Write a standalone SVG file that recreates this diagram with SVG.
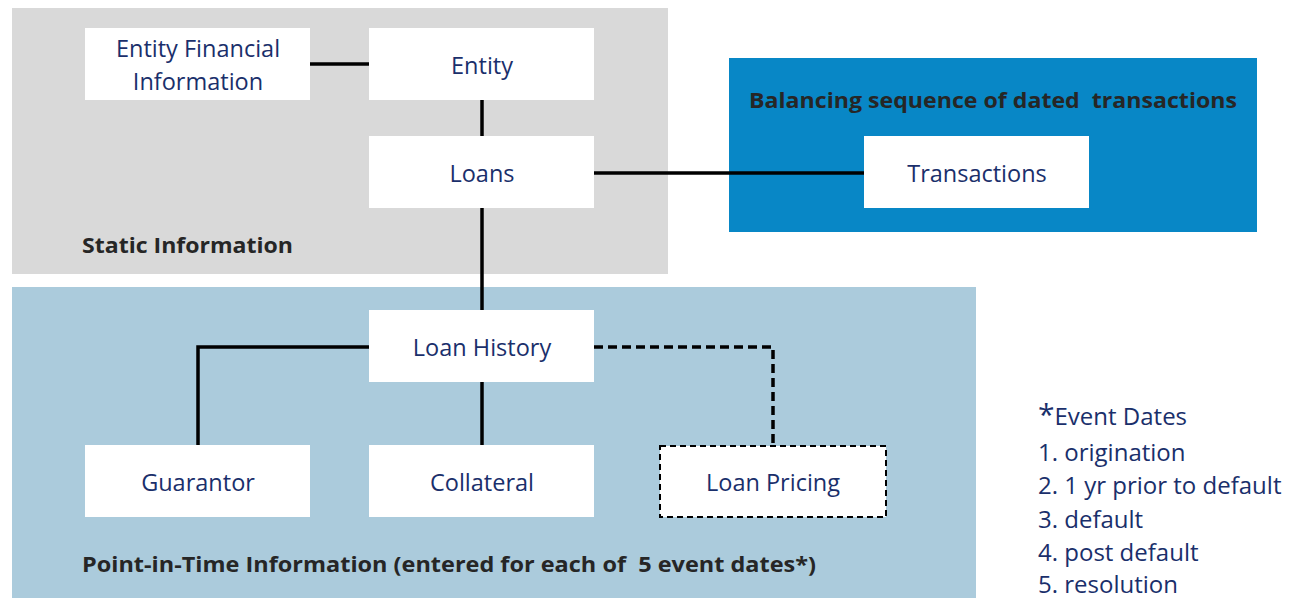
<svg xmlns="http://www.w3.org/2000/svg" width="1292" height="598" viewBox="0 0 1292 598">
<style>
.node{fill:#ffffff}
.dash{fill:#ffffff;stroke:#000;stroke-width:2;stroke-dasharray:6 4}
.nt{font-family:"Open Sans","Liberation Sans",sans-serif;font-size:23.5px;fill:#1a2f6b;text-anchor:middle}
.lbl{font-family:"Open Sans","Liberation Sans",sans-serif;font-size:21px;font-weight:bold;fill:#262626;white-space:pre}
.leg{font-family:"Open Sans","Liberation Sans",sans-serif;font-size:24px;fill:#1a2f6b}
.c{fill:none;stroke:#000;stroke-width:3.5}
.cd{fill:none;stroke:#000;stroke-width:3.5;stroke-dasharray:9 5}
</style>
<rect width="1292" height="598" fill="#ffffff"/>
<g id="panels">
<rect x="12" y="8" width="656" height="266" fill="#d9d9d9"/>
<rect x="12" y="287" width="964" height="311" fill="#abcbdc"/>
<rect x="729" y="58" width="528" height="174" fill="#0887c6"/>
<text class="lbl" x="82" y="253" textLength="211" lengthAdjust="spacingAndGlyphs">Static Information</text>
<text class="lbl" x="82" y="572" textLength="734" lengthAdjust="spacingAndGlyphs" xml:space="preserve">Point-in-Time Information (entered for each of  5 event dates*)</text>
<text class="lbl" x="749" y="108" textLength="488" lengthAdjust="spacingAndGlyphs" xml:space="preserve">Balancing sequence of dated  transactions</text>
</g>
<g id="connectors">
<line class="c" x1="310" y1="64" x2="369" y2="64"/>
<line class="c" x1="482" y1="100" x2="482" y2="136"/>
<line class="c" x1="594" y1="173" x2="864" y2="173"/>
<line class="c" x1="482" y1="208" x2="482" y2="310"/>
<polyline class="c" points="369,347 198,347 198,445"/>
<line class="c" x1="482" y1="382" x2="482" y2="445"/>
<polyline class="cd" points="594,347 773,347 773,445"/>
</g>
<g id="efi"><rect class="node" x="85" y="28" width="225" height="72"/><text class="nt" x="198" y="57">Entity Financial</text><text class="nt" x="198" y="90">Information</text></g>
<g id="entity"><rect class="node" x="369" y="28" width="225" height="72"/><text class="nt" x="482" y="74">Entity</text></g>
<g id="loans"><rect class="node" x="369" y="136" width="225" height="72"/><text class="nt" x="482" y="182">Loans</text></g>
<g id="transactions"><rect class="node" x="864" y="136" width="225" height="72"/><text class="nt" x="977" y="182">Transactions</text></g>
<g id="loanhistory"><rect class="node" x="369" y="310" width="225" height="72"/><text class="nt" x="482" y="356">Loan History</text></g>
<g id="guarantor"><rect class="node" x="85" y="445" width="225" height="72"/><text class="nt" x="198" y="491">Guarantor</text></g>
<g id="collateral"><rect class="node" x="369" y="445" width="225" height="72"/><text class="nt" x="482" y="491">Collateral</text></g>
<g id="loanpricing"><rect class="dash" x="660" y="446" width="226" height="71"/><text class="nt" x="773" y="491">Loan Pricing</text></g>
<g id="legend">
<text class="leg" x="1038" y="425"><tspan font-size="30">*</tspan><tspan>Event Dates</tspan></text>
<text class="leg" x="1038" y="461">1. origination</text>
<text class="leg" x="1038" y="494">2. 1 yr prior to default</text>
<text class="leg" x="1038" y="528">3. default</text>
<text class="leg" x="1038" y="561">4. post default</text>
<text class="leg" x="1038" y="593">5. resolution</text>
</g>
</svg>
